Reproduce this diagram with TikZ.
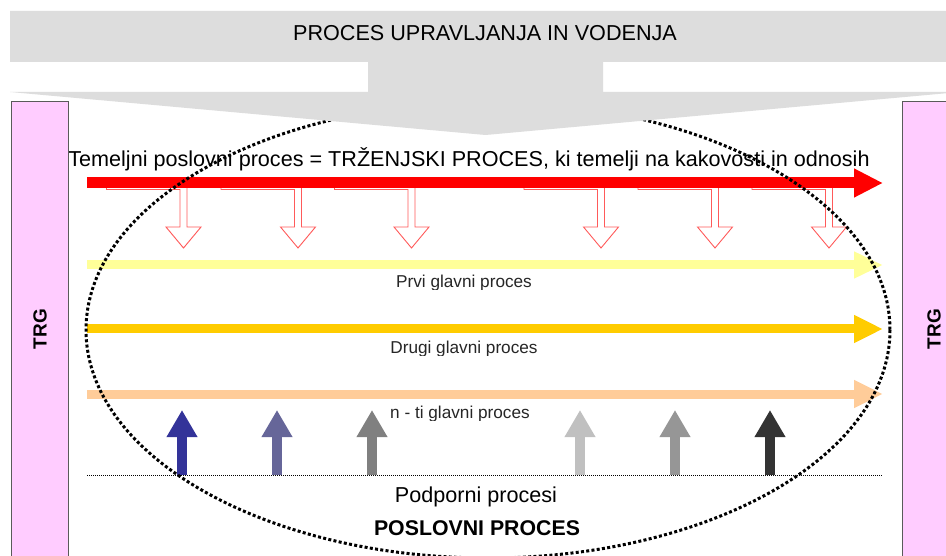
\documentclass[tikz,border=0pt]{standalone}
\usepackage{fontspec}
\setmainfont{Liberation Sans}
\usetikzlibrary{arrows.meta}

\definecolor{bannergray}{RGB}{221,221,221}
\definecolor{trgpink}{RGB}{255,204,255}
\definecolor{trgedge}{RGB}{90,90,90}
\definecolor{mainred}{RGB}{255,0,0}
\definecolor{hollowred}{RGB}{255,90,90}
\definecolor{procyellow}{RGB}{255,255,153}
\definecolor{procgold}{RGB}{255,204,0}
\definecolor{procpeach}{RGB}{255,204,153}
\definecolor{upA}{RGB}{51,51,153}
\definecolor{upB}{RGB}{102,102,153}
\definecolor{upC}{RGB}{128,128,128}
\definecolor{upD}{RGB}{192,192,192}
\definecolor{upE}{RGB}{150,150,150}
\definecolor{upF}{RGB}{51,51,51}

\begin{document}
\begin{tikzpicture}[x=1pt,y=-1pt,
  bigtext/.style={font=\fontsize{21.6}{25}\selectfont, inner sep=0pt},
  boldtext/.style={font=\fontsize{21.3}{25}\selectfont\bfseries, inner sep=0pt},
  labeltext/.style={font=\fontsize{17.2}{20}\selectfont, text=black!85, inner sep=0pt, anchor=base},
  trgtext/.style={font=\fontsize{19}{20}\selectfont\bfseries, rotate=90, inner sep=0pt},
  trgbox/.style={fill=trgpink, draw=trgedge, line width=1pt},
  hollow/.style={draw=hollowred, fill=white, line width=0.9pt},
  procarrow/.style={line width=9pt, -{Triangle[length=29pt,width=#1]}},
  uparrow/.style={line width=10pt, -{Triangle[length=27pt,width=29pt]}},
  bigdots/.style={line width=3pt, dash pattern=on 3pt off 2.3pt},
  sepline/.style={line width=1pt, dash pattern=on 1pt off 1pt}
]
\useasboundingbox (0,0) rectangle (946,556);
\fill[white] (0,0) rectangle (946,556);

% hollow bent arrows hanging from the main process
\foreach \c in {183.5,298,411.5,601,715,829} {
  \draw[hollow] (\c-77,189.5) -- (\c-3.5,189.5) -- (\c-3.5,227) -- (\c-17.5,227)
    -- (\c,248) -- (\c+17.5,227) -- (\c+3.5,227) -- (\c+3.5,180) -- (\c-77,180) -- cycle;
}

% main marketing process
\coordinate (redS) at (87,183);
\coordinate (redE) at (883,183);
\draw[mainred, line width=11pt, -{Triangle[length=29pt,width=27pt]}] (redS) -- (redE);

% core processes
\coordinate (yelS) at (87,265);
\coordinate (yelE) at (883,265);
\draw[procyellow, procarrow=25pt] (yelS) -- (yelE);
\coordinate (goldS) at (87,329);
\coordinate (goldE) at (883,329);
\draw[procgold, procarrow=26pt] (goldS) -- (goldE);
\coordinate (peachS) at (87,394);
\coordinate (peachE) at (883,394);
\draw[procpeach, procarrow=26pt] (peachS) -- (peachE);

% labels of the core processes (cut at the lower edge of their boxes)
\begin{scope}
  \clip (300,270) rectangle (620,290);
  \node[labeltext] (lab1) at (464,288) {Prvi glavni proces};
\end{scope}
\begin{scope}
  \clip (300,335) rectangle (620,355.5);
  \node[labeltext] (lab2) at (464,353) {Drugi glavni proces};
\end{scope}
\begin{scope}
  \clip (300,400) rectangle (620,420);
  \node[labeltext] (lab3) at (460,418) {n - ti glavni proces};
\end{scope}

% supporting processes
\coordinate (sepL) at (87,475);
\coordinate (sepR) at (882,475);
\draw[sepline] (sepL) -- (sepR);
\foreach \c/\col in {182/upA,277/upB,372/upC,580/upD,675/upE,770/upF} {
  \coordinate (ub-\col) at (\c,475);
  \coordinate (ut-\col) at (\c,410);
  \draw[uparrow, draw=\col] (ub-\col) -- (ut-\col);
}

% texts
\node[bigtext, anchor=base] (core) at (469,167)
  {Temeljni poslovni proces = TRŽENJSKI PROCES, ki temelji na kakovosti in odnosih};
\node[bigtext, anchor=base] (support) at (476,502) {Podporni procesi};
\node[boldtext, anchor=base] (business) at (477,535) {POSLOVNI PROCES};

% business process boundary
\coordinate (ellc) at (488,330);
\draw[bigdots] (ellc) ellipse [x radius=402, y radius=228];

% management process banner
\fill[bannergray] (10,11) -- (960,11) -- (960,62) -- (603,62) -- (603,92) -- (960,92)
  -- (485.5,135) -- (10,92) -- (368,92) -- (368,62) -- (10,62) -- cycle;
\node[bigtext] (mgmt) at (485,33) {PROCES UPRAVLJANJA IN VODENJA};

% market columns
\draw[trgbox] (11,102) rectangle (68,570);
\draw[trgbox] (902,102) rectangle (960,570);
\node[trgtext] (trgL) at (40,329) {TRG};
\node[trgtext] (trgR) at (934,329) {TRG};
\end{tikzpicture}
\end{document}
